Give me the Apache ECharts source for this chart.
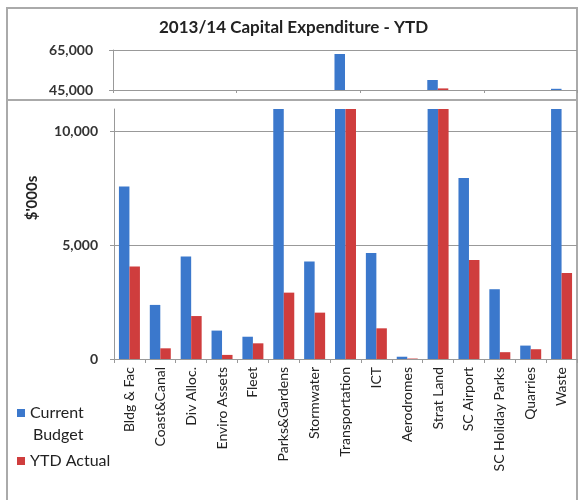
<!DOCTYPE html>
<html><head><meta charset="utf-8">
<script src="https://cdn.jsdelivr.net/npm/echarts@6/dist/echarts.min.js"></script>
<style>html,body{margin:0;padding:0;background:#fff}#c{width:578px;height:500px}</style>
</head><body><div id="c"></div>
<script>
var categories = ['Bldg & Fac','Coast&Canal','Div Alloc.','Enviro Assets','Fleet','Parks&Gardens','Stormwater','Transportation','ICT','Aerodromes','Strat Land','SC Airport','SC Holiday Parks','Quarries','Waste'];
var currentBudget = [7590, 2380, 4510, 1250, 980, 25000, 4290, 63000, 4660, 100, 50000, 7960, 3070, 590, 45600];
var ytdActual = [4070, 470, 1890, 180, 690, 2920, 2040, 28000, 1350, 20, 45800, 4360, 300, 430, 3780];
var upperTicks = [45000, 65000];
var lowerTicks = [0, 5000, 10000];
var lowerMax = 11000;

var FONT = 'Lato';
var BLUE = '#3b78cc';
var RED = '#cf3d3d';
var fmt = function (v) { return v.toLocaleString('en-US'); };
function upper(arr) { return arr.map(function (v) { return v > upperTicks[0] ? v : null; }); }

var chart = echarts.init(document.getElementById('c'), null, {renderer: 'canvas'});
chart.setOption({
  animation: false,
  backgroundColor: '#fff',
  textStyle: {fontFamily: FONT},
  title: {
    text: '2013/14 Capital Expenditure - YTD',
    left: 154, top: 14,
    textStyle: {fontFamily: FONT, fontSize: 17, fontWeight: 'bold', color: '#222'}
  },
  legend: [
    {orient: 'vertical', left: 17, top: 402, padding: 0,
     itemWidth: 8, itemHeight: 8, icon: 'rect',
     textStyle: {fontFamily: FONT, fontSize: 16, color: '#222', lineHeight: 22},
     data: ['Current Budget'],
     formatter: function () { return 'Current'; }},
    {orient: 'vertical', left: 17, top: 450, padding: 0,
     itemWidth: 8, itemHeight: 8, icon: 'rect',
     textStyle: {fontFamily: FONT, fontSize: 16, color: '#222', lineHeight: 22},
     data: ['YTD Actual']}
  ],
  grid: [
    {left: 113, right: 1, top: 50, height: 40},
    {left: 114, right: 1, top: 109, height: 250}
  ],
  xAxis: [
    {type: 'category', gridIndex: 0, data: categories,
     axisLine: {lineStyle: {color: '#999'}}, axisTick: {show: true, length: 3, lineStyle: {color: '#999'}},
     axisLabel: {show: false}},
    {type: 'category', gridIndex: 1, data: categories,
     axisLine: {lineStyle: {color: '#999'}}, axisTick: {show: true, length: 4, lineStyle: {color: '#999'}},
     axisLabel: {rotate: 90, margin: 8, fontFamily: FONT, fontSize: 14, color: '#222'}}
  ],
  yAxis: [
    {type: 'value', gridIndex: 0, min: upperTicks[0], max: upperTicks[1], interval: upperTicks[1] - upperTicks[0],
     axisLine: {show: true, lineStyle: {color: '#999'}}, axisTick: {show: true, length: 4, lineStyle: {color: '#999'}},
     splitLine: {show: true, lineStyle: {color: '#999'}},
     axisLabel: {margin: 20, fontFamily: FONT, fontSize: 14, fontWeight: 'bold', color: '#333', formatter: fmt}},
    {type: 'value', gridIndex: 1, min: lowerTicks[0], max: lowerMax, interval: lowerTicks[1] - lowerTicks[0],
     axisLine: {show: true, lineStyle: {color: '#999'}}, axisTick: {show: true, length: 4, lineStyle: {color: '#999'}},
     splitLine: {show: true, showMaxLine: false, lineStyle: {color: '#999'}},
     axisLabel: {margin: 16, showMaxLabel: false, fontFamily: FONT, fontSize: 14, fontWeight: 'bold', color: '#333',
       formatter: function (v) { return v > lowerTicks[lowerTicks.length - 1] ? '' : fmt(v); }}}
  ],
  series: [
    {name: 'Current Budget', type: 'bar', xAxisIndex: 1, yAxisIndex: 1, data: currentBudget, clip: true,
     barGap: 0, barCategoryGap: '32%', itemStyle: {color: BLUE}},
    {name: 'YTD Actual', type: 'bar', xAxisIndex: 1, yAxisIndex: 1, data: ytdActual, clip: true,
     barGap: 0, barCategoryGap: '32%', itemStyle: {color: RED}},
    {name: 'Current Budget', type: 'bar', xAxisIndex: 0, yAxisIndex: 0, data: upper(currentBudget), clip: true,
     barGap: 0, barCategoryGap: '32%', itemStyle: {color: BLUE}},
    {name: 'YTD Actual', type: 'bar', xAxisIndex: 0, yAxisIndex: 0, data: upper(ytdActual), clip: true,
     barGap: 0, barCategoryGap: '32%', itemStyle: {color: RED}}
  ],
  graphic: [
    {type: 'rect', silent: true, z: -1, shape: {x: 7, y: 8, width: 570, height: 500},
     style: {fill: 'none', stroke: '#aaa', lineWidth: 2}},
    {type: 'line', silent: true, shape: {x1: 7, y1: 100, x2: 577, y2: 100},
     style: {stroke: '#aaa', lineWidth: 2}},
    {type: 'text', silent: true, x: 33, y: 435,
     style: {text: 'Budget', fontFamily: FONT, fontSize: 16, fill: '#222',
             textAlign: 'left', textVerticalAlign: 'middle'}},
    {type: 'text', silent: true, x: 32, y: 198, rotation: Math.PI / 2,
     style: {text: "$'000s", fontFamily: FONT, fontSize: 15, fontWeight: 'bold', fill: '#222',
             textAlign: 'center', textVerticalAlign: 'middle'}}
  ]
});
</script></body></html>
